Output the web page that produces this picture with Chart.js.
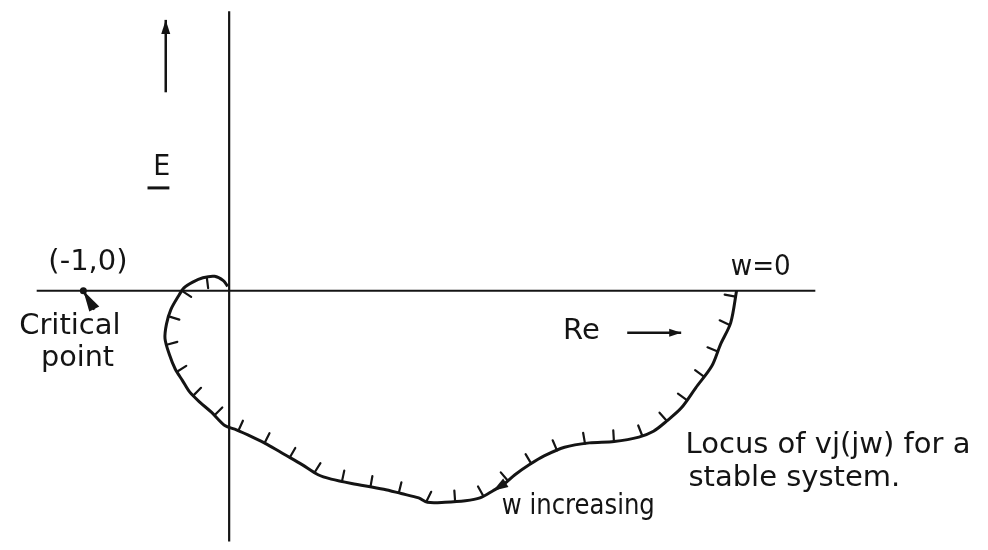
<!DOCTYPE html>
<html>
<head>
<meta charset="utf-8">
<script src="https://cdn.jsdelivr.net/npm/chart.js@4.4.0/dist/chart.umd.min.js"></script>
<style>
html, body { margin: 0; padding: 0; background: #fff; overflow: hidden; }
canvas { display: block; }
</style>
</head>
<body>
<canvas id="myChart" width="988" height="550"></canvas>
<script>
// locus of vj(jw), from w = 0 going round to the loop
var locusX = [3.48, 3.44, 3.37, 3.31, 3.20, 3.10, 3.00, 2.91, 2.81, 2.64, 2.47, 2.30, 2.16, 2.06,
              1.96, 1.89, 1.81, 1.72, 1.62, 1.48, 1.36, 1.30, 1.18, 1.06, 0.84, 0.70, 0.61, 0.50,
              0.38, 0.26, 0.16, 0.05, -0.03, -0.12, -0.20, -0.27, -0.32, -0.37, -0.41, -0.44,
              -0.43, -0.40, -0.35, -0.31, -0.25, -0.18, -0.10, -0.04, -0.01];
var locusY = [0.00, -0.22, -0.37, -0.52, -0.67, -0.81, -0.90, -0.97, -1.01, -1.04, -1.05, -1.08, -1.14, -1.20,
              -1.27, -1.33, -1.38, -1.43, -1.45, -1.46, -1.46, -1.43, -1.40, -1.37, -1.33, -1.30, -1.27, -1.20,
              -1.13, -1.06, -1.01, -0.96, -0.93, -0.84, -0.77, -0.70, -0.62, -0.54, -0.44, -0.33,
              -0.23, -0.13, -0.04, 0.02, 0.06, 0.09, 0.10, 0.07, 0.03];
var arrowIndex = 16;          // "w increasing" arrow sits on this locus point

var criticalX = [-1];
var criticalY = [0];

// axes and pointer lines (data units, 1 unit = distance from 0 to the critical point)
var reAxisX = [-1.32, 4.02];
var reAxisY = [0, 0];
var imAxisX = [0, 0];
var imAxisY = [1.93, -1.73];
var upArrowX = [-0.435, -0.435];
var upArrowY = [1.37, 1.87];
var reArrowX = [2.73, 3.10];
var reArrowY = [-0.29, -0.29];
var leaderX = [-1, -0.925];
var leaderY = [0, -0.13];
var eBarX = [-0.56, -0.41];
var eBarY = [0.71, 0.71];

var labelTexts = ['(-1,0)', 'Critical', 'point', 'E', 'w=0', 'Re',
                  'Locus of vj(jw) for a', 'stable system.', 'w increasing'];
var labelX = [-1.24, -1.44, -1.29, -0.52, 3.44, 2.29, 3.13, 3.15, 1.87];
var labelY = [0.14, -0.30, -0.52, 0.80, 0.11, -0.33, -1.12, -1.35, -1.54];
var labelW = [85, 107, 73, 17, 60, 37, 286, 220, 153];

var ink = '#141414';
var unitPx = 147;
var originPx = { x: 227, y: 291 };

function pts(xs, ys) {
    var out = [];
    for (var i = 0; i < xs.length; i++) out.push({ x: xs[i], y: ys[i] });
    return out;
}

function lineSet(xs, ys, width) {
    return {
        data: pts(xs, ys),
        showLine: true,
        borderColor: ink,
        borderWidth: width,
        pointRadius: 0,
        tension: 0
    };
}

function head(ctx, tip, from, len, half) {
    var dx = tip.x - from.x, dy = tip.y - from.y;
    var L = Math.sqrt(dx * dx + dy * dy);
    dx /= L; dy /= L;
    var bx = tip.x - dx * len, by = tip.y - dy * len;
    ctx.beginPath();
    ctx.moveTo(tip.x, tip.y);
    ctx.lineTo(bx - dy * half, by + dx * half);
    ctx.lineTo(bx + dy * half, by - dx * half);
    ctx.closePath();
    ctx.fill();
}

var sketch = {
    id: 'sketch',
    afterDatasetsDraw: function (chart) {
        var ctx = chart.ctx, sx = chart.scales.x, sy = chart.scales.y;
        function P(x, y) { return { x: sx.getPixelForValue(x), y: sy.getPixelForValue(y) }; }
        ctx.save();
        ctx.fillStyle = ink;
        ctx.strokeStyle = ink;
        ctx.lineCap = 'round';

        // hatching on the inner side of the locus
        var p = [];
        for (var i = 0; i < locusX.length; i++) p.push(P(locusX[i], locusY[i]));
        var lens = [0];
        for (i = 1; i < p.length; i++) {
            lens.push(lens[i - 1] + Math.hypot(p[i].x - p[i - 1].x, p[i].y - p[i - 1].y));
        }
        var total = lens[lens.length - 1];
        var s = 6, seg = 1;
        ctx.lineWidth = 2.2;
        ctx.beginPath();
        while (s < total - 4) {
            while (lens[seg] < s) seg++;
            var a = p[seg - 1], b = p[seg];
            var L = lens[seg] - lens[seg - 1];
            var t = (s - lens[seg - 1]) / L;
            var px = a.x + (b.x - a.x) * t, py = a.y + (b.y - a.y) * t;
            var dx = (b.x - a.x) / L, dy = (b.y - a.y) / L;
            ctx.moveTo(px, py);
            ctx.lineTo(px - dy * 11, py + dx * 11);
            s += 29;
        }
        ctx.stroke();

        // arrowheads
        head(ctx, p[arrowIndex], p[arrowIndex - 1], 15, 5);
        head(ctx, P(upArrowX[1], upArrowY[1]), P(upArrowX[0], upArrowY[0]), 14, 4.5);
        head(ctx, P(reArrowX[1], reArrowY[1]), P(reArrowX[0], reArrowY[0]), 12, 4);
        // wedge of the pointer to the critical point
        var w0 = P(leaderX[0], leaderY[0]), w1 = P(leaderX[1], leaderY[1]);
        ctx.beginPath();
        ctx.moveTo(w0.x, w0.y);
        ctx.lineTo(w1.x - 5, w1.y + 2);
        ctx.lineTo(w1.x + 5, w1.y - 3);
        ctx.closePath();
        ctx.fill();

        // lettering
        ctx.font = '29px "DejaVu Sans"';
        ctx.textBaseline = 'alphabetic';
        ctx.textAlign = 'left';
        for (i = 0; i < labelTexts.length; i++) {
            var q = P(labelX[i], labelY[i]);
            ctx.fillText(labelTexts[i], q.x, q.y, labelW[i]);
        }
        ctx.restore();
    }
};

var datasets = [
    lineSet(reAxisX, reAxisY, 2.2),
    lineSet(imAxisX, imAxisY, 2.2),
    lineSet(upArrowX, upArrowY, 2.5),
    lineSet(reArrowX, reArrowY, 2.5),
    lineSet(leaderX, leaderY, 2.5),
    lineSet(eBarX, eBarY, 3),
    {
        data: pts(locusX, locusY),
        showLine: true,
        borderColor: ink,
        borderWidth: 3,
        pointRadius: 0,
        tension: 0.3
    },
    {
        data: pts(criticalX, criticalY),
        showLine: false,
        pointRadius: 3.5,
        pointBackgroundColor: ink,
        pointBorderWidth: 0
    }
];

var ctx = document.getElementById('myChart').getContext('2d');
var myChart = new Chart(ctx, {
    type: 'scatter',
    data: { datasets: datasets },
    options: {
        responsive: false,
        animation: false,
        events: [],
        layout: { padding: 0 },
        plugins: { legend: { display: false }, tooltip: { enabled: false } },
        scales: {
            x: { type: 'linear', display: false,
                 min: -originPx.x / unitPx, max: (988 - originPx.x) / unitPx },
            y: { type: 'linear', display: false,
                 min: -(550 - originPx.y) / unitPx, max: originPx.y / unitPx }
        }
    },
    plugins: [sketch]
});
</script>
</body>
</html>
